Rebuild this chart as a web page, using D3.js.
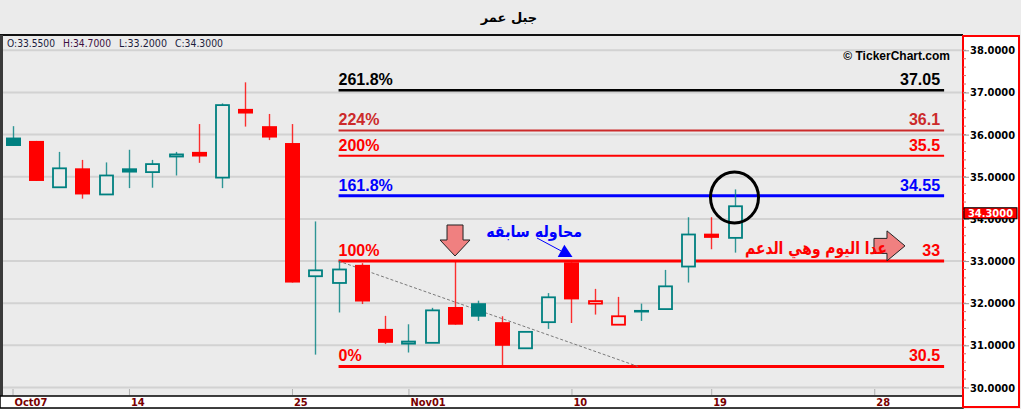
<!DOCTYPE html>
<html>
<head>
<meta charset="utf-8">
<script src="https://cdn.jsdelivr.net/npm/d3@7/dist/d3.min.js"></script>
<style>
html,body{margin:0;padding:0;background:#ebebeb;}
svg{display:block;}
</style>
</head>
<body>
<svg id="c" width="1021" height="409"></svg>
<script>
// ---------- DATA ----------
const title = "جبل عمر";
const dayIdx = d3.range(0, 32);
const opens  = [35.93,35.85,34.75,35.20,34.58,35.20,35.11,35.48,35.59,34.98,36.61,36.20,35.80,32.64,32.48,32.91,31.39,31.04,31.06,31.91,32.00,31.55,30.93,31.55,32.97,31.99,31.49,31.84,31.86,32.87,33.65,33.55];
const highs  = [36.20,35.85,35.59,35.40,35.34,35.64,35.40,35.59,36.25,36.74,37.24,36.49,36.25,33.94,33.00,32.95,31.70,31.50,31.89,32.98,32.06,31.69,31.32,32.24,32.97,32.34,32.15,31.99,32.79,34.04,34.04,34.70];
const lows   = [35.73,34.90,34.75,34.48,34.58,34.73,34.74,35.03,35.33,34.73,36.19,35.87,32.49,30.78,31.78,31.98,31.03,30.83,31.06,31.49,31.58,30.52,30.93,31.39,31.53,31.73,31.49,31.58,31.86,32.49,33.28,33.20];
const closes = [35.73,34.90,35.20,34.58,35.03,35.10,35.30,35.53,35.48,36.70,36.50,35.93,32.49,32.78,32.80,32.04,31.06,31.09,31.83,31.49,31.68,30.99,31.32,32.14,32.09,32.05,31.69,31.78,32.40,33.63,33.55,34.30];

const xTickIdx    = [0, 5, 12, 17, 24, 30, 37];
const xTickLabels = ["Oct07", "14", "25", "Nov01", "10", "19", "28"];
const yTickValues = [30, 31, 32, 33, 34, 35, 36, 37, 38];

const fibPct    = ["261.8%", "224%", "200%", "161.8%", "100%", "0%"];
const fibValues = [37.05, 36.1, 35.5, 34.55, 33, 30.5];
const fibLabels = ["37.05", "36.1", "35.5", "34.55", "33", "30.5"];
const fibStartIdx = 14, fibEndIdx = 40;

const lastOHLC = {O: "33.5500", H: "34.7000", L: "33.2000", C: "34.3000"};
const lastPrice = 34.30;

const trendFrom = [14, 33.0], trendTo = [26.85, 30.5];
const noteAttempt = "محاوله سابقه";
const noteSupport = "عدا اليوم وهي الدعم";

// ---------- STYLE ----------
const W = 1021, H = 409;
const TEAL = "#008080", RED = "#ff0000";
const fibColors = ["#000000", "#cc2a2a", "#ff0000", "#0000ff", "#ff0000", "#ff0000"];
const fibWidths = [2.5, 2, 2, 3, 3, 3];

const svg = d3.select("#c");
svg.append("rect").attr("width", W).attr("height", H).attr("fill", "#ebebeb");

const x = d3.scaleLinear().domain([0, 31]).range([12.5, 734.5]);
const y = d3.scaleLinear().domain([30, 38]).range([387.5, 50.3]);

// title
svg.append("text").attr("x", 509).attr("y", 22).attr("text-anchor", "middle")
  .attr("font-family", "DejaVu Sans, sans-serif").attr("font-weight", "bold").attr("font-size", 13)
  .attr("fill", "#000").text(title);

// panel borders
svg.append("rect").attr("x", 0).attr("y", 34).attr("width", 963).attr("height", 2).attr("fill", "#111");
svg.append("rect").attr("x", 0).attr("y", 35).attr("width", 3).attr("height", 362).attr("fill", "#3a3a3a");

// gridlines
svg.append("g").selectAll("line").data(yTickValues).join("line")
  .attr("x1", 3).attr("x2", 963).attr("y1", d => y(d)).attr("y2", d => y(d))
  .attr("stroke", "#d2d2d2").attr("stroke-width", 2);

// OHLC header
const hdr = [["O:" + lastOHLC.O, 7, "#1c1c3c"], ["H:" + lastOHLC.H, 63, "#3c1040"], ["L:" + lastOHLC.L, 119, "#1c1c3c"], ["C:" + lastOHLC.C, 175, "#1c1c3c"]];
svg.append("g").selectAll("text").data(hdr).join("text")
  .attr("x", d => d[1]).attr("y", 47).attr("font-family", "DejaVu Sans, sans-serif")
  .attr("font-size", 10.5).attr("fill", d => d[2]).attr("textLength", 48).attr("lengthAdjust", "spacingAndGlyphs")
  .text(d => d[0]);

// copyright
svg.append("text").attr("x", 950).attr("y", 59.5).attr("text-anchor", "end")
  .attr("font-family", "Liberation Sans, Arial, sans-serif").attr("font-weight", "bold").attr("font-size", 12)
  .attr("fill", "#000").text("© TickerChart.com");

// fib lines
const fg = svg.append("g");
fibValues.forEach((v, i) => {
  fg.append("line").attr("x1", x(fibStartIdx)).attr("x2", x(fibEndIdx)).attr("y1", y(v)).attr("y2", y(v))
    .attr("stroke", fibColors[i]).attr("stroke-width", fibWidths[i]);
  fg.append("text").attr("x", x(fibStartIdx)).attr("y", y(v) - 5)
    .attr("font-family", "Liberation Sans, Arial, sans-serif").attr("font-weight", "bold").attr("font-size", 16)
    .attr("fill", fibColors[i]).text(fibPct[i]);
  fg.append("text").attr("x", x(fibEndIdx) - 4).attr("y", y(v) - 5).attr("text-anchor", "end")
    .attr("font-family", "Liberation Sans, Arial, sans-serif").attr("font-weight", "bold").attr("font-size", 16)
    .attr("fill", fibColors[i]).text(fibLabels[i]);
});

// trend dashed line
svg.append("line").attr("x1", x(trendFrom[0])).attr("y1", y(trendFrom[1]))
  .attr("x2", x(trendTo[0])).attr("y2", y(trendTo[1]))
  .attr("stroke", "#7a7a7a").attr("stroke-width", 1).attr("stroke-dasharray", "3,2");

// candles
const candles = dayIdx.map(i => ({i, o: opens[i], h: highs[i], l: lows[i], c: closes[i],
  up: i === 0 ? true : closes[i] >= closes[i - 1], hollow: closes[i] > opens[i]}));
const cg = svg.append("g");
const BW = 15;
candles.forEach(d => {
  const col = d.up ? TEAL : RED;
  const top = y(Math.max(d.o, d.c)), bot = y(Math.min(d.o, d.c));
  const cx = Math.round(x(d.i)) + 0.5;
  cg.append("line").attr("x1", cx).attr("x2", cx).attr("y1", y(d.h)).attr("y2", y(d.l))
    .attr("stroke", col).attr("stroke-width", 1.4).attr("opacity", 0.8);
  if (d.hollow) {
    cg.append("rect").attr("x", cx - BW / 2 + 1).attr("y", top).attr("width", BW - 2).attr("height", Math.max(bot - top, 1.5))
      .attr("fill", "#ebebeb").attr("stroke", col).attr("stroke-width", 1.8);
  } else {
    cg.append("rect").attr("x", cx - BW / 2).attr("y", top).attr("width", BW).attr("height", Math.max(bot - top, 2.5))
      .attr("fill", col);
  }
});

// down arrow above candle 19
(function () {
  const tx = x(19), ty = y(33.12);
  const pts = [[tx, ty], [tx - 15, ty - 16], [tx - 8, ty - 16], [tx - 8, ty - 31], [tx + 8, ty - 31], [tx + 8, ty - 16], [tx + 15, ty - 16]];
  svg.append("polygon").attr("points", pts.map(p => p.join(",")).join(" "))
    .attr("fill", "#f08080").attr("stroke", "#222").attr("stroke-width", 1);
})();

// blue annotation
svg.append("text").attr("x", x(22.4)).attr("y", y(33.56)).attr("text-anchor", "middle")
  .attr("font-family", "DejaVu Sans, sans-serif").attr("font-weight", "bold").attr("font-size", 16)
  .attr("fill", "#0000ff").attr("textLength", 96).attr("lengthAdjust", "spacingAndGlyphs").text(noteAttempt);
(function () {
  const x1 = 537, y1 = 238, tx = 572.5, ty = 257;
  const ang = Math.atan2(ty - y1, tx - x1), L = 13, hw = 7;
  const bx = tx - L * Math.cos(ang), by = ty - L * Math.sin(ang);
  const px = -Math.sin(ang), py = Math.cos(ang);
  svg.append("line").attr("x1", x1).attr("y1", y1).attr("x2", bx).attr("y2", by).attr("stroke", "#0000ff").attr("stroke-width", 1);
  svg.append("polygon").attr("points", [[tx, ty], [bx + px * hw, by + py * hw], [bx - px * hw, by - py * hw]].map(p => p.join(",")).join(" "))
    .attr("fill", "#0000ff");
})();

// right arrow near 33 (drawn under the text)
(function () {
  const tx = x(38.32), ty = y(33.36);
  const pts = [[tx, ty], [tx - 18, ty - 15], [tx - 18, ty - 7.5], [tx - 31, ty - 7.5], [tx - 31, ty + 7.5], [tx - 18, ty + 7.5], [tx - 18, ty + 15]];
  svg.append("polygon").attr("points", pts.map(p => p.join(",")).join(" "))
    .attr("fill", "#f08080").attr("stroke", "#222").attr("stroke-width", 1);
})();
svg.append("text").attr("x", 816).attr("y", y(33.17)).attr("text-anchor", "middle")
  .attr("font-family", "DejaVu Sans, sans-serif").attr("font-weight", "bold").attr("font-size", 17)
  .attr("fill", "#ff0000").attr("textLength", 142).attr("lengthAdjust", "spacingAndGlyphs").text(noteSupport);

// circle around last candle
svg.append("ellipse").attr("cx", x(31)).attr("cy", y(34.51)).attr("rx", 24).attr("ry", 25.5)
  .attr("fill", "none").attr("stroke", "#000").attr("stroke-width", 3);

// x axis strip
svg.append("rect").attr("x", 0).attr("y", 396).attr("width", 963).attr("height", 12)
  .attr("fill", "#fff").attr("stroke", "#000").attr("stroke-width", 1.5);
const xAxis = d3.axisBottom(x).tickValues(xTickIdx).tickFormat((d, i) => xTickLabels[i]).tickSize(-6).tickPadding(3);
const xg = svg.append("g").attr("transform", "translate(0,395)").call(xAxis);
xg.select(".domain").remove();
xg.selectAll(".tick line").attr("stroke", "#b0b0b0");
xg.selectAll(".tick text").attr("text-anchor", "start").attr("dx", 1.5).attr("fill", "#7a0000")
  .attr("font-family", "DejaVu Sans Condensed, DejaVu Sans, sans-serif").attr("font-weight", "bold").attr("font-size", 11);

// right axis
svg.append("rect").attr("x", 963).attr("y", 36).attr("width", 56).attr("height", 371)
  .attr("fill", "#fff").attr("stroke", "#ff0000").attr("stroke-width", 2);
const minor = d3.range(30, 38.01, 0.2);
svg.append("g").selectAll("line").data(minor).join("line")
  .attr("x1", 963).attr("x2", 966).attr("y1", d => y(d)).attr("y2", d => y(d)).attr("stroke", "#e06060");
const yAxis = d3.axisRight(y).tickValues(yTickValues).tickFormat(d3.format(".4f")).tickSize(6).tickPadding(1);
const yg = svg.append("g").attr("transform", "translate(963,0)").call(yAxis);
yg.select(".domain").remove();
yg.selectAll(".tick line").attr("stroke", "#999");
yg.selectAll(".tick text").attr("fill", "#000")
  .attr("font-family", "DejaVu Sans Condensed, DejaVu Sans, sans-serif").attr("font-weight", "bold").attr("font-size", 11);

// last price label
svg.append("rect").attr("x", 964).attr("y", y(lastPrice) + 1.5).attr("width", 53).attr("height", 11)
  .attr("fill", "#ff0000").attr("stroke", "#000").attr("stroke-width", 1);
svg.append("text").attr("x", 990.5).attr("y", y(lastPrice) + 11).attr("text-anchor", "middle")
  .attr("font-family", "DejaVu Sans Condensed, DejaVu Sans, sans-serif").attr("font-weight", "bold").attr("font-size", 11)
  .attr("fill", "#fff").text(lastPrice.toFixed(4));
</script>
</body>
</html>
